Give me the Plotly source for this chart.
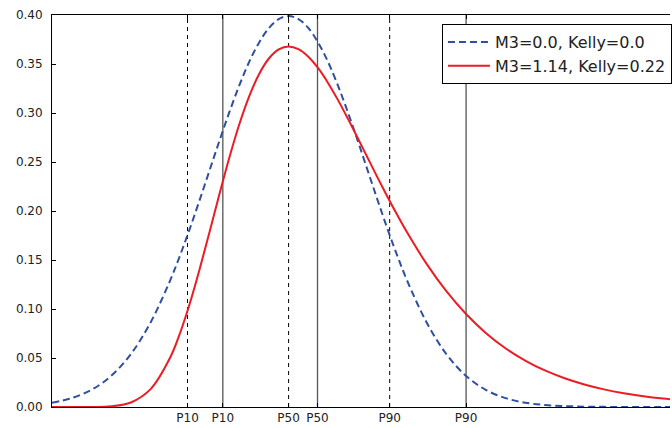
import plotly.graph_objects as go

# x grid where densities were read
x_vals = [-3.0, -2.75, -2.5, -2.25, -2.0, -1.75, -1.5, -1.375, -1.25, -1.125, -1.0, -0.875,
          -0.75, -0.625, -0.5, -0.375, -0.25, -0.125, 0.0, 0.125, 0.25, 0.375, 0.5, 0.625,
          0.75, 0.875, 1.0, 1.125, 1.25, 1.375, 1.5, 1.75, 2.0, 2.25, 2.5, 2.75,
          3.0, 3.25, 3.5, 3.75, 4.0, 4.25, 4.5, 4.75, 5.0]

# M3=0.0 (normal) density
normal_y = [0.0044, 0.0091, 0.0175, 0.0317, 0.0540, 0.0863, 0.1295, 0.1550, 0.1826, 0.2119, 0.2420, 0.2721,
            0.3011, 0.3282, 0.3521, 0.3718, 0.3867, 0.3958, 0.3989, 0.3958, 0.3867, 0.3718, 0.3521, 0.3282,
            0.3011, 0.2721, 0.2420, 0.2119, 0.1826, 0.1550, 0.1295, 0.0863, 0.0540, 0.0317, 0.0175, 0.0091,
            0.0044, 0.0020, 0.0009, 0.00035, 0.00013, 0.00005, 0.00002, 0.00001, 0.0]

# M3=1.14 (skewed) density
skew_y = [0.0, 0.0, 0.00006, 0.00072, 0.0046, 0.0182, 0.0507, 0.0758, 0.1064, 0.1416, 0.1794, 0.2179,
          0.2549, 0.2885, 0.3170, 0.3396, 0.3556, 0.3649, 0.3679, 0.3651, 0.3574, 0.3457, 0.3307, 0.3134,
          0.2945, 0.2748, 0.2546, 0.2346, 0.2151, 0.1964, 0.1785, 0.1460, 0.1182, 0.0949, 0.0756, 0.0600,
          0.0474, 0.0373, 0.0293, 0.0230, 0.0180, 0.0141, 0.0110, 0.0086, 0.0067]

# quantile markers
normal_q = [-1.2816, 0.0, 1.2816]
skew_q = [-0.834, 0.3665, 2.2504]
q_labels = ["P10", "P50", "P90"]

series_names = ["M3=0.0, Kelly=0.0", "M3=1.14, Kelly=0.22"]

BLUE = "#2f4f9f"
RED = "#ec1c24"
FONT = "DejaVu Sans"

fig = go.Figure()

# vertical quantile lines
for q in normal_q:
    fig.add_trace(go.Scatter(x=[q, q], y=[0, 0.4], mode="lines",
                             line=dict(color="black", width=1, dash="4px,4px"),
                             showlegend=False, hoverinfo="skip"))
for q in skew_q:
    fig.add_trace(go.Scatter(x=[q, q], y=[0, 0.4], mode="lines",
                             line=dict(color="#555555", width=1.3),
                             showlegend=False, hoverinfo="skip"))

fig.add_trace(go.Scatter(x=x_vals, y=normal_y, mode="lines", name=series_names[0],
                         line=dict(color=BLUE, width=2, dash="7px,4px", shape="spline", smoothing=1.0)))
fig.add_trace(go.Scatter(x=x_vals, y=skew_y, mode="lines", name=series_names[1],
                         line=dict(color=RED, width=2, shape="spline", smoothing=1.0)))

tick_x = []
tick_t = []
for a, b, lab in zip(normal_q, skew_q, q_labels):
    tick_x += [a, b]
    tick_t += [lab, lab]

fig.update_layout(
    width=672, height=428,
    margin=dict(l=52, r=0, t=15, b=21, pad=0),
    plot_bgcolor="white", paper_bgcolor="white",
    font=dict(family=FONT, size=12, color="#222222"),
    xaxis=dict(range=[-3.0, 4.836], showgrid=False, zeroline=False, automargin=False,
               tickmode="array", tickvals=tick_x, ticktext=tick_t,
               ticks="inside", ticklen=4, tickcolor="black", tickwidth=1,
               showline=True, linecolor="black", linewidth=1, mirror="ticks",
               ticklabelstandoff=0,
               tickfont=dict(size=12, family=FONT)),
    yaxis=dict(range=[0, 0.4], showgrid=False, zeroline=False, automargin=False,
               tickmode="array", tickvals=[0, 0.05, 0.1, 0.15, 0.2, 0.25, 0.3, 0.35, 0.4],
               tickformat=".2f",
               ticks="inside", ticklen=4, tickcolor="black", tickwidth=1,
               showline=True, linecolor="black", linewidth=1, mirror=False,
               ticklabelstandoff=6,
               tickfont=dict(size=12, family=FONT)),
    legend=dict(x=0.631, y=0.977, xanchor="left", yanchor="top",
                bordercolor="black", borderwidth=1, bgcolor="white",
                itemwidth=42,
                font=dict(size=16, family=FONT), tracegroupgap=0),
    showlegend=True,
)

fig.write_html("out.html", config={"displayModeBar": False},
               post_script="document.body.style.margin='0';document.body.style.overflow='hidden';")
